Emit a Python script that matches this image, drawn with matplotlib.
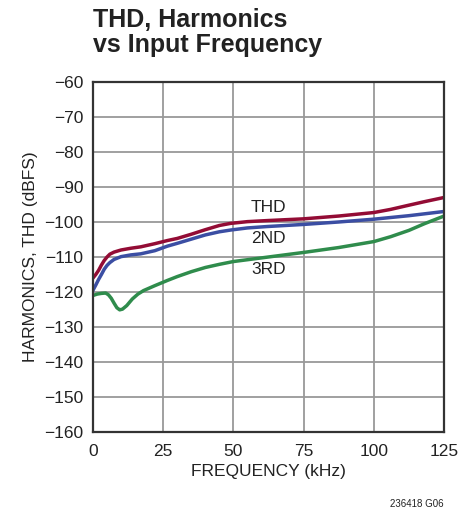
import numpy as np
import matplotlib
matplotlib.use("Agg")
from matplotlib import pyplot as plt

# values (kHz, dBFS)
freq_thd = [0, 1, 2, 3, 4, 5, 6, 7.5, 10, 13.5, 17, 22, 26.5, 30, 35, 40, 45, 49, 55, 62, 75, 87.5, 100, 106, 112.5, 118, 125]
thd = [-116, -115, -113.8, -112.3, -111, -110, -109.2, -108.6, -108, -107.5, -107.1, -106.2, -105.3, -104.7, -103.5, -102.2, -101, -100.4, -99.9, -99.6, -99.1, -98.3, -97.3, -96.4, -95.2, -94.2, -93]

freq_2nd = [0, 1, 2, 3, 4, 5, 6, 7.5, 10, 13.5, 17, 22, 26.5, 30, 35, 40, 45, 49, 55, 62, 75, 87.5, 100, 112.5, 125]
h2 = [-119.5, -118, -116.4, -115, -113.5, -112.4, -111.6, -110.7, -109.9, -109.4, -109.1, -108.2, -106.9, -106.1, -104.9, -103.7, -102.8, -102.3, -101.7, -101.3, -100.7, -100, -99.2, -98.2, -97]

freq_3rd = [0, 1.5, 3, 4.5, 5.5, 6.5, 7.5, 8.5, 9.5, 10.5, 12, 14, 16, 18, 20, 22, 26.5, 30, 35, 40, 45, 50, 62.5, 75, 87.5, 100, 106, 112.5, 118, 125]
h3 = [-121, -120.6, -120.4, -120.3, -120.8, -121.8, -123.2, -124.5, -125.1, -124.9, -123.9, -122, -120.6, -119.6, -118.9, -118.2, -116.7, -115.6, -114.2, -113.0, -112.1, -111.3, -110, -108.7, -107.3, -105.6, -104.2, -102.4, -100.5, -98.3]

xticks = [0, 25, 50, 75, 100, 125]
yticks = list(range(-160, -50, 10))

font = ['Liberation Sans Narrow', 'Liberation Sans', 'DejaVu Sans']
plt.rcParams['font.family'] = font

fig = plt.figure(figsize=(4.75, 5.15), dpi=100)
ax = fig.add_axes([0.1958, 0.1612, 0.739, 0.6796])

ax.plot(freq_thd, thd, color='#930c35', lw=2.5)
ax.plot(freq_2nd, h2, color='#3b4ea3', lw=2.5)
ax.plot(freq_3rd, h3, color='#2f8c4c', lw=2.5)

ax.text(62.5, -95.9, 'THD', fontsize=12.5, ha='center', va='center', color='#222222')
ax.text(62.5, -104.8, '2ND', fontsize=12.5, ha='center', va='center', color='#222222')
ax.text(62.5, -113.7, '3RD', fontsize=12.5, ha='center', va='center', color='#222222')

ax.set_xlim(0, 125)
ax.set_ylim(-160, -60)
ax.set_xticks(xticks)
ax.set_yticks(yticks)
ax.set_yticklabels(['\u2212%d' % -v for v in yticks])
ax.tick_params(length=0, labelsize=12.5, colors='#222222')
ax.tick_params(axis='x', pad=9)
ax.tick_params(axis='y', pad=7)
ax.grid(True, color='#999999', lw=1.3)
for s in ax.spines.values():
    s.set_linewidth(1.6)
    s.set_color('#333333')

ax.set_xlabel('FREQUENCY (kHz)', fontsize=12.5, labelpad=3, color='#222222')
ax.set_ylabel('HARMONICS, THD (dBFS)', fontsize=12.5, labelpad=4, color='#222222')

fig.text(0.196, 0.985, 'THD, Harmonics\nvs Input Frequency', fontsize=18, fontweight='bold',
         ha='left', va='top', linespacing=1.05, color='#222222')
fig.text(0.935, 0.012, '236418 G06', fontsize=7, ha='right', va='bottom', color='#222222')

fig.savefig('out.png', dpi=100)
